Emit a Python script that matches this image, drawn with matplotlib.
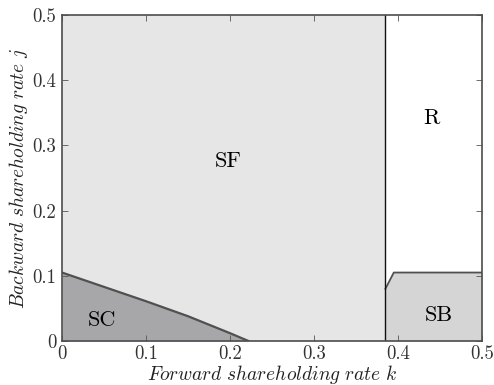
import numpy as np
import matplotlib
matplotlib.use("Agg")
import matplotlib.pyplot as plt

plt.rcParams["font.family"] = "cmr10"
plt.rcParams["mathtext.fontset"] = "cm"
plt.rcParams["axes.formatter.use_mathtext"] = True

# Boundary between SC and SF regions
sc_k = [0.0, 0.05, 0.10, 0.15, 0.20, 0.222]
sc_j = [0.105, 0.083, 0.061, 0.038, 0.012, 0.0]

# Threshold between SF and the right-hand regions
k_split = 0.385

# Boundary between SB and R regions
sb_k = [0.385, 0.395, 0.5]
sb_j = [0.080, 0.105, 0.105]

k_max, j_max = 0.5, 0.5
ticks = [0, 0.1, 0.2, 0.3, 0.4, 0.5]
tick_labels = ["0", "0.1", "0.2", "0.3", "0.4", "0.5"]

region_labels = ["SF", "SC", "R", "SB"]
region_pos = [(0.198, 0.275), (0.047, 0.032), (0.44, 0.342), (0.448, 0.04)]

fig = plt.figure(figsize=(4.94, 3.85), dpi=100)
ax = fig.add_axes([62 / 494, 44 / 385, 420 / 494, 326 / 385])

c_sf = "#e6e6e7"
c_sc = "#a7a7aa"
c_sb = "#d5d5d6"
edge = "#4d4d4d"

# SF region
ax.fill_between([0, k_split], 0, j_max, color=c_sf, lw=0, zorder=0)
# SC region
ax.fill_between(sc_k, 0, sc_j, color=c_sc, lw=0, zorder=1)
ax.plot(sc_k, sc_j, color="#505050", lw=1.6, zorder=3)
# SB region
ax.fill_between(sb_k, 0, sb_j, color=c_sb, lw=0, zorder=1)
ax.plot(sb_k, sb_j, color="#505050", lw=1.3, zorder=3)
# vertical threshold
ax.plot([k_split, k_split], [0, j_max], color="#111111", lw=1.0, zorder=3)

for lab, (x, y) in zip(region_labels, region_pos):
    ax.text(x, y, lab, fontsize=16, ha="center", va="center", zorder=4)

ax.set_xlim(0, k_max)
ax.set_ylim(0, j_max)
ax.set_xticks(ticks)
ax.set_xticklabels(tick_labels)
ax.set_yticks(ticks)
ax.set_yticklabels(tick_labels)
ax.tick_params(direction="in", top=True, right=True, length=4, width=0.6,
               labelsize=13.5, colors="#555555", labelcolor="#333333", pad=4)
ax.tick_params(axis="x", pad=3)
for s in ax.spines.values():
    s.set_color(edge)
    s.set_linewidth(1.2)
    s.set_zorder(5)

ax.set_xlabel(r"$\mathit{Forward\ shareholding\ rate\ k}$", fontsize=14,
              color="#222222", labelpad=0)
ax.set_ylabel(r"$\mathit{Backward\ shareholding\ rate\ j}$", fontsize=14,
              color="#222222", labelpad=2)

fig.savefig("out.png", dpi=100)
